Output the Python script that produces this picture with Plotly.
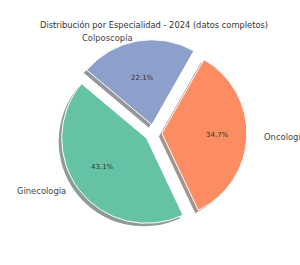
import numpy as np
import plotly.graph_objects as go

# ---- data ----
categories = ["Ginecología", "Oncología", "Colposcopía"]
values = [43.1, 34.7, 22.1]
colors = ["#66c2a5", "#fc8d62", "#8da0cb"]
title_text = "Distribución por Especialidad - 2024 (datos completos)"

# ---- layout constants ----
W, H = 300, 265
CX, CY = 153.4, 133.1      # pie centre (px)
R = 85                      # pie radius (px)
PULL = 0.1
START = 140                 # start angle (deg, counter-clockwise from 3 o'clock)
SHADOW_DX, SHADOW_DY = -3, 3
PCT_RX, PCT_RY = 63.7, 55.6     # percent label distance
LAB_RX, LAB_RY = 109.2, 95.3    # category label distance
FONT = "DejaVu Sans"


def domain(cx, cy):
    half = R * (1 + PULL)
    return dict(x=[(cx - half) / W, (cx + half) / W],
                y=[1 - (cy + half) / H, 1 - (cy - half) / H])


def shade(hexcol):
    r, g, b = (int(hexcol[i:i + 2], 16) for i in (1, 3, 5))
    return f"rgba({int(0.3 * r)},{int(0.3 * g)},{int(0.3 * b)},0.5)"


vals = np.array(values, dtype=float)
frac = vals / vals.sum()
mids = np.radians(START + 360 * (np.cumsum(frac) - frac / 2))

# plotly (counterclockwise) uses the boundary after the first slice as reference,
# measured clockwise from 12 o'clock
rot = 90 - (START + 360 * frac[0])
rot = ((rot + 180) % 360) - 180

common = dict(labels=categories, values=values, sort=False,
              direction="counterclockwise", rotation=rot,
              pull=[PULL] * len(values), textinfo="none", hoverinfo="skip",
              showlegend=False)

fig = go.Figure()
fig.add_trace(go.Pie(**common,
                     marker=dict(colors=[shade(c) for c in colors], line=dict(width=0)),
                     domain=domain(CX + SHADOW_DX, CY + SHADOW_DY)))
fig.add_trace(go.Pie(**common,
                     marker=dict(colors=colors, line=dict(color="white", width=1)),
                     domain=domain(CX, CY)))

annotations = []
for name, f, m in zip(categories, frac, mids):
    c, s = np.cos(m), np.sin(m)
    # percent text
    px_, py_ = CX + PCT_RX * c, CY - PCT_RY * s
    annotations.append(dict(x=px_ / W, y=1 - py_ / H, xref="paper", yref="paper",
                            text=f"{100 * f:.1f}%", showarrow=False,
                            xanchor="center", yanchor="middle",
                            font=dict(family=FONT, size=7, color="#333333")))
    # category label
    lx, ly = CX + LAB_RX * c, CY - LAB_RY * s
    if s > 0.9:
        ly -= 1.5
    annotations.append(dict(x=lx / W, y=1 - ly / H, xref="paper", yref="paper",
                            text=name, showarrow=False,
                            xanchor="right" if c < 0 else "left", yanchor="middle",
                            borderpad=0,
                            font=dict(family=FONT, size=8.4, color="#444444")))

# title
annotations.append(dict(x=154 / W, y=1 - 25.5 / H, xref="paper", yref="paper",
                        text=title_text, showarrow=False,
                        xanchor="center", yanchor="middle", borderpad=0,
                        font=dict(family=FONT, size=8.3, color="#333333")))

fig.update_layout(
    width=W, height=H,
    margin=dict(l=0, r=0, t=0, b=0),
    paper_bgcolor="white", plot_bgcolor="white",
    annotations=annotations,
)

fig.write_html("out.html")
